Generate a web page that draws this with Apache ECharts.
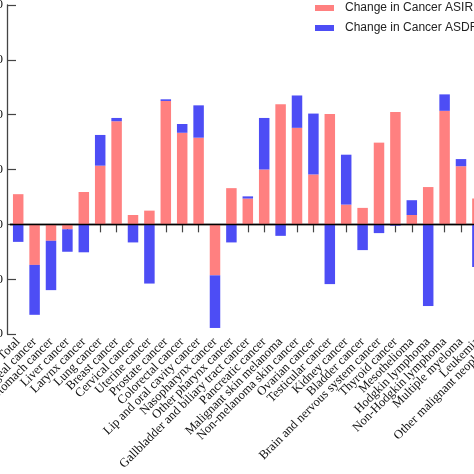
<!DOCTYPE html>
<html>
<head>
<meta charset="utf-8">
<script src="https://cdn.jsdelivr.net/npm/echarts@6/dist/echarts.min.js"></script>
<style>
html,body{margin:0;padding:0;background:#fff;}
#chart{width:474px;height:474px;}
</style>
</head>
<body>
<div id="chart"></div>
<script>
const categories = [
  "Total","Esophageal cancer","Stomach cancer","Liver cancer","Larynx cancer","Lung cancer",
  "Breast cancer","Cervical cancer","Uterine cancer","Prostate cancer","Colorectal cancer",
  "Lip and oral cavity cancer","Nasopharynx cancer","Other pharynx cancer",
  "Gallbladder and biliary tract cancer","Pancreatic cancer","Malignant skin melanoma",
  "Non-melanoma skin cancer","Ovarian cancer","Testicular cancer","Kidney cancer",
  "Bladder cancer","Brain and nervous system cancer","Thyroid cancer","Mesothelioma",
  "Hodgkin lymphoma","Non-Hodgkin lymphoma","Multiple myeloma","Leukemia",
  "Other malignant neoplasms"
];
const asir = [5.5,-7.4,-3.0,-0.9,5.9,10.7,18.8,1.7,2.5,22.5,16.7,15.8,-9.3,6.6,4.7,10.0,21.9,17.6,9.1,20.1,3.6,3.0,14.9,20.5,1.7,6.8,20.7,10.6,4.7,5.0];
const asdr = [-3.2,-9.1,-9.0,-4.1,-5.1,5.6,0.6,-3.3,-10.8,0.3,1.6,5.9,-9.6,-3.3,0.4,9.4,-2.1,5.9,11.1,-10.9,9.1,-4.7,-1.6,-0.25,2.7,-14.9,3.0,1.3,-7.8,-3.0];
const yTicks = {min:-20, max:40, interval:10};

const chart = echarts.init(document.getElementById('chart'), null, {renderer:'canvas'});
chart.setOption({
  animation:false,
  backgroundColor:'#ffffff',
  legend:{
    orient:'vertical', left:310, top:-3, itemWidth:19, itemHeight:6, itemGap:8,
    icon:'rect',
    textStyle:{fontFamily:'Liberation Sans', fontSize:12, color:'#222', padding:[0,0,0,6]},
    data:['Change in Cancer ASIR','Change in Cancer ASDR']
  },
  grid:{left:10, right:-28, top:5, bottom:140, outerBoundsMode:'none', containLabel:false},
  xAxis:{
    type:'category', data:categories,
    axisLine:{show:true, lineStyle:{color:'#444', width:1.3}},
    axisTick:{show:true, alignWithLabel:true, length:8, lineStyle:{color:'#444', width:1.2}},
    axisLabel:{interval:0, rotate:45, margin:6, fontFamily:'Liberation Serif', fontSize:12.6, color:'#111'}
  },
  yAxis:{
    type:'value', min:yTicks.min, max:yTicks.max, interval:yTicks.interval, offset:3,
    splitLine:{show:false},
    axisLine:{show:true, lineStyle:{color:'#444', width:1.3}},
    axisTick:{show:true, inside:true, length:9, lineStyle:{color:'#444', width:1.2}},
    axisLabel:{margin:4, fontFamily:'Liberation Serif', fontSize:13, color:'#111'}
  },
  series:[
    {name:'Change in Cancer ASIR', type:'bar', stack:'s', data:asir, barWidth:10.5,
     itemStyle:{color:'#ff8080'},
     markLine:{silent:true, symbol:['none','none'], label:{show:false},
       lineStyle:{color:'#000', width:1.3, type:'solid'}, data:[{yAxis:0}]}},
    {name:'Change in Cancer ASDR', type:'bar', stack:'s', data:asdr, barWidth:10.5,
     itemStyle:{color:'#4d4df5'}}
  ]
});
</script>
</body>
</html>
